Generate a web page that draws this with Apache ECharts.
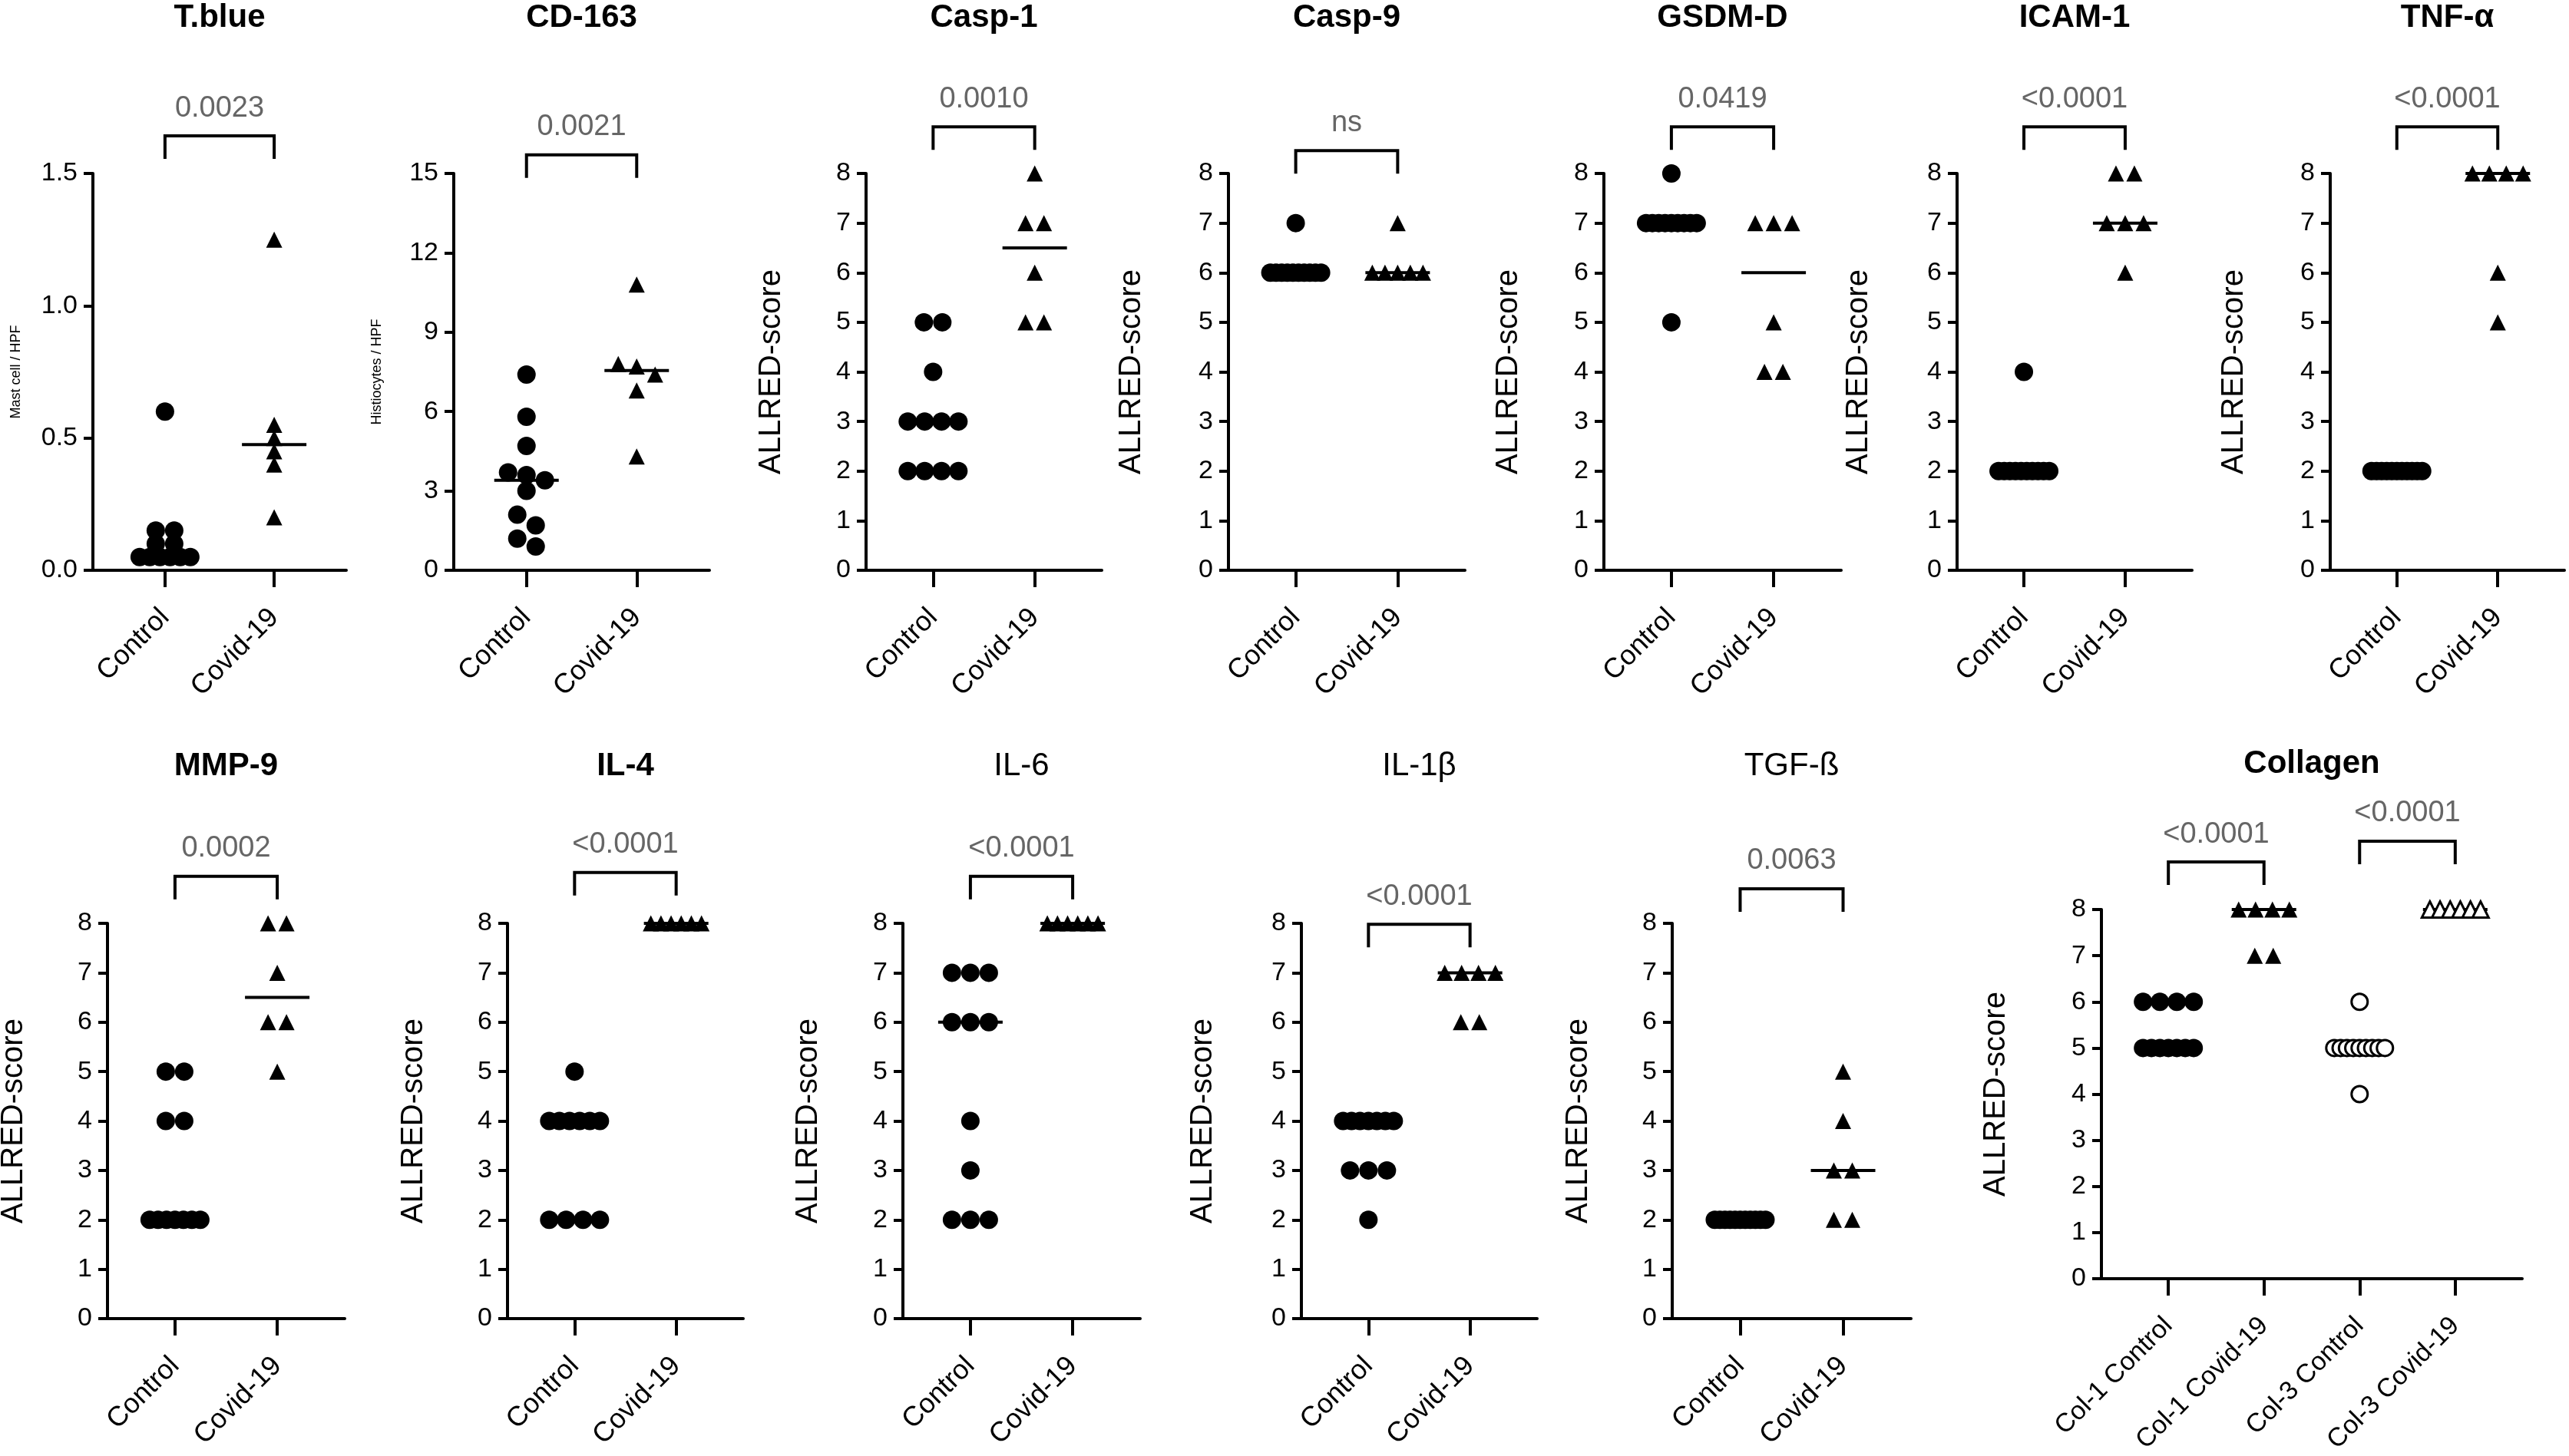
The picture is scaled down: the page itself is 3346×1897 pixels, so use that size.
<!DOCTYPE html>
<html>
<head>
<meta charset="utf-8">
<title>ALLRED panels</title>
<script src="https://cdn.jsdelivr.net/npm/echarts@6.0.0/dist/echarts.min.js"></script>
<style>
  html, body { margin: 0; padding: 0; background: #fff; }
  #chart { width: 3346px; height: 1897px; }
</style>
</head>
<body>
<div id="chart"></div>
<script>
const FONT = "'Liberation Sans', Arial, Helvetica, sans-serif";

// categories
const groups = ["Control", "Covid-19"];
const collagenGroups = ["Col-1 Control", "Col-1 Covid-19", "Col-3 Control", "Col-3 Covid-19"];

// p values printed above the brackets
const pValues = ["0.0023", "0.0021", "0.0010", "ns", "0.0419", "<0.0001", "<0.0001",
  "0.0002", "<0.0001", "<0.0001", "<0.0001", "0.0063", "<0.0001", "<0.0001"];

// values
const tblueControl = [0.6, 0.15, 0.15, 0.1, 0.1, 0.05, 0.05, 0.05, 0.05, 0.05, 0.05];
const tblueCovid = [1.25, 0.55, 0.5, 0.45, 0.4, 0.2];
const cd163Control = [7.4, 5.8, 4.7, 3.7, 3.6, 3.4, 3.0, 2.1, 1.7, 1.2, 0.9];
const cd163Covid = [10.8, 7.8, 7.7, 7.4, 6.8, 4.3];
const casp1Control = [5, 5, 4, 3, 3, 3, 3, 2, 2, 2, 2];
const casp1Covid = [8, 7, 7, 6, 5, 5];
const casp9Control = [7, 6, 6, 6, 6, 6, 6, 6, 6, 6, 6];
const casp9Covid = [7, 6, 6, 6, 6, 6];
const gsdmdControl = [8, 7, 7, 7, 7, 7, 7, 7, 7, 7, 5];
const gsdmdCovid = [7, 7, 7, 5, 4, 4];
const icam1Control = [4, 2, 2, 2, 2, 2, 2, 2, 2, 2, 2];
const icam1Covid = [8, 8, 7, 7, 7, 6];
const tnfControl = [2, 2, 2, 2, 2, 2, 2, 2, 2, 2, 2];
const tnfCovid = [8, 8, 8, 8, 6, 5];
const mmp9Control = [5, 5, 4, 4, 2, 2, 2, 2, 2, 2, 2];
const mmp9Covid = [8, 8, 7, 6, 6, 5];
const il4Control = [5, 4, 4, 4, 4, 4, 4, 2, 2, 2, 2];
const il4Covid = [8, 8, 8, 8, 8, 8];
const il6Control = [7, 7, 7, 6, 6, 6, 4, 3, 2, 2, 2];
const il6Covid = [8, 8, 8, 8, 8, 8];
const il1bControl = [4, 4, 4, 4, 4, 4, 4, 3, 3, 3, 2];
const il1bCovid = [7, 7, 7, 7, 6, 6];
const tgfbControl = [2, 2, 2, 2, 2, 2, 2, 2, 2, 2, 2];
const tgfbCovid = [5, 4, 3, 3, 2, 2];
const col1Control = [6, 6, 6, 6, 5, 5, 5, 5, 5, 5, 5];
const col1Covid = [8, 8, 8, 8, 7, 7];
const col3Control = [6, 5, 5, 5, 5, 5, 5, 5, 5, 5, 4];
const col3Covid = [8, 8, 8, 8, 8, 8];

// mark looks
const dot = { symbol: "circle", size: 24, fill: "#000" };
const tri = { symbol: "triangle", size: 21, fill: "#000" };
const ring = { symbol: "circle", size: 21, fill: "#fff" };
const triOpen = { symbol: "triangle", size: 21, fill: "#fff" };

const rowA = [226, 743];
const rowB = [1203, 1718];
const ALLRED = "ALLRED-score";

// panel layout: box = [left, top, right, bottom]
const panels = [
  { title: "T.blue", cats: groups, values: [tblueControl, tblueCovid], marks: [dot, tri], yMax: 1.5, yStep: 0.5, yName: "Mast cell / HPF", nameSize: 18, nameDist: 100, box: [121, rowA[0], 451, rowA[1]], titleY: 23, bold: true, brackets: [[0, 1, 1.642, pValues[0]]] },
  { title: "CD-163", cats: groups, values: [cd163Control, cd163Covid], marks: [dot, tri], yMax: 15, yStep: 3, yName: "Histiocytes / HPF", nameSize: 18, nameDist: 100, box: [591, rowA[0], 924, rowA[1]], titleY: 23, bold: true, brackets: [[0, 1, 15.7, pValues[1]]] },
  { title: "Casp-1", cats: groups, values: [casp1Control, casp1Covid], marks: [dot, tri], yMax: 8, yStep: 1, yName: ALLRED, nameSize: 40, nameDist: 123, box: [1128, rowA[0], 1435, rowA[1]], titleY: 23, bold: true, brackets: [[0, 1, 8.94, pValues[2]]] },
  { title: "Casp-9", cats: groups, values: [casp9Control, casp9Covid], marks: [dot, tri], yMax: 8, yStep: 1, yName: ALLRED, nameSize: 40, nameDist: 126, box: [1600, rowA[0], 1908, rowA[1]], titleY: 23, bold: true, brackets: [[0, 1, 8.46, pValues[3]]] },
  { title: "GSDM-D", cats: groups, values: [gsdmdControl, gsdmdCovid], marks: [dot, tri], yMax: 8, yStep: 1, yName: ALLRED, nameSize: 40, nameDist: 124, box: [2089, rowA[0], 2398, rowA[1]], titleY: 23, bold: true, brackets: [[0, 1, 8.94, pValues[4]]] },
  { title: "ICAM-1", cats: groups, values: [icam1Control, icam1Covid], marks: [dot, tri], yMax: 8, yStep: 1, yName: ALLRED, nameSize: 40, nameDist: 128, box: [2549, rowA[0], 2855, rowA[1]], titleY: 23, bold: true, brackets: [[0, 1, 8.94, pValues[5]]] },
  { title: "TNF-α", cats: groups, values: [tnfControl, tnfCovid], marks: [dot, tri], yMax: 8, yStep: 1, yName: ALLRED, nameSize: 40, nameDist: 125, box: [3035, rowA[0], 3340, rowA[1]], titleY: 23, bold: true, pad: 0.66, brackets: [[0, 1, 8.94, pValues[6]]] },
  { title: "MMP-9", cats: groups, values: [mmp9Control, mmp9Covid], marks: [dot, tri], yMax: 8, yStep: 1, yName: ALLRED, nameSize: 40, nameDist: 122, box: [140, rowB[0], 449, rowB[1]], titleY: 998, bold: true, brackets: [[0, 1, 8.95, pValues[7]]] },
  { title: "IL-4", cats: groups, values: [il4Control, il4Covid], marks: [dot, tri], yMax: 8, yStep: 1, yName: ALLRED, nameSize: 40, nameDist: 122, box: [661, rowB[0], 968, rowB[1]], titleY: 998, bold: true, brackets: [[0, 1, 9.03, pValues[8]]] },
  { title: "IL-6", cats: groups, values: [il6Control, il6Covid], marks: [dot, tri], yMax: 8, yStep: 1, yName: ALLRED, nameSize: 40, nameDist: 123, box: [1176, rowB[0], 1485, rowB[1]], titleY: 998, bold: false, brackets: [[0, 1, 8.95, pValues[9]]] },
  { title: "IL-1β", cats: groups, values: [il1bControl, il1bCovid], marks: [dot, tri], yMax: 8, yStep: 1, yName: ALLRED, nameSize: 40, nameDist: 128, box: [1695, rowB[0], 2002, rowB[1]], titleY: 998, bold: false, brackets: [[0, 1, 7.98, pValues[10]]] },
  { title: "TGF-ß", cats: groups, values: [tgfbControl, tgfbCovid], marks: [dot, tri], yMax: 8, yStep: 1, yName: ALLRED, nameSize: 40, nameDist: 122, box: [2178, rowB[0], 2489, rowB[1]], titleY: 998, bold: false, brackets: [[0, 1, 8.7, pValues[11]]] },
  { title: "Collagen", cats: collagenGroups, values: [col1Control, col1Covid, col3Control, col3Covid], marks: [dot, tri, ring, triOpen], yMax: 8, yStep: 1, yName: ALLRED, nameSize: 40, nameDist: 137, box: [2737, 1185, 3285, 1666], titleY: 995, bold: true, pad: 0.7, brackets: [[0, 1, 9.03, pValues[12]], [2, 3, 9.48, pValues[13]]] }
];

function median(arr) {
  const s = [...arr].sort((a, b) => a - b);
  const m = s.length >> 1;
  return s.length % 2 ? s[m] : (s[m - 1] + s[m]) / 2;
}

// spread points that sit (nearly) on the same level side by side, like a dot plot
function spreadOffsets(values, unitPx) {
  const tol = 14 / unitPx;
  const order = values.map((v, k) => k).sort((a, b) => values[b] - values[a]);
  const bins = [];
  let cur = [];
  order.forEach(k => {
    if (cur.length && values[cur[0]] - values[k] > tol) { bins.push(cur); cur = []; }
    cur.push(k);
  });
  if (cur.length) bins.push(cur);
  const off = new Array(values.length).fill(0);
  bins.forEach(b => {
    const n = b.length;
    const step = n > 1 ? Math.min(24, 66 / (n - 1)) : 0;
    b.forEach((k, j) => { off[k] = (j - (n - 1) / 2) * step; });
  });
  return off;
}

const grid = [], xAxis = [], yAxis = [], series = [], graphic = [];

panels.forEach((p, i) => {
  const [L, T, R, B] = p.box;
  const pad = p.pad || 0.66;
  const ticks = p.cats.map((c, j) => j);
  grid.push({ left: L, top: T, width: R - L, height: B - T, containLabel: false, outerBoundsMode: "none" });

  xAxis.push({
    gridIndex: i, type: "value", min: -pad, max: p.cats.length - 1 + pad,
    axisLine: { show: true, onZero: false, lineStyle: { color: "#000", width: 4 } },
    axisTick: { show: true, customValues: ticks, length: 22, lineStyle: { color: "#000", width: 4 } },
    axisLabel: { customValues: ticks, formatter: v => p.cats[Math.round(v)] || "", rotate: 45, margin: 56,
      fontSize: p.cats.length > 2 ? 34 : 36, color: "#000", fontFamily: FONT },
    splitLine: { show: false }
  });

  yAxis.push({
    gridIndex: i, type: "value", min: 0, max: p.yMax, interval: p.yStep,
    axisLine: { show: true, onZero: false, lineStyle: { color: "#000", width: 4 } },
    axisTick: { show: true, length: 12, lineStyle: { color: "#000", width: 4 } },
    axisLabel: { fontSize: 34, color: "#000", fontFamily: FONT, margin: 20,
      formatter: v => (p.yStep < 1 ? v.toFixed(1) : String(v)) },
    splitLine: { show: false },
    name: p.yName, nameLocation: "middle", nameGap: p.nameDist - p.nameSize / 2,
    nameTextStyle: { fontSize: p.nameSize, color: "#000", fontFamily: FONT }
  });

  const unitPx = (B - T) / p.yMax;

  // median lines
  series.push({
    type: "custom", xAxisIndex: i, yAxisIndex: i, z: 2, silent: true,
    data: p.values.map((vals, j) => [j, median(vals)]),
    renderItem: (params, api) => {
      const c = api.coord([api.value(0), api.value(1)]);
      return { type: "line", shape: { x1: c[0] - 42, y1: c[1], x2: c[0] + 42, y2: c[1] },
        style: { stroke: "#000", lineWidth: 4 } };
    }
  });

  // points
  p.values.forEach((vals, j) => {
    const m = p.marks[j];
    const off = spreadOffsets(vals, unitPx);
    series.push({
      type: "scatter", xAxisIndex: i, yAxisIndex: i, z: 3, silent: true,
      symbol: m.symbol, symbolSize: m.size,
      itemStyle: { color: m.fill, borderColor: "#000", borderWidth: m.fill === "#fff" ? 3 : 0, opacity: 1 },
      data: vals.map((v, k) => ({ value: [j, v], symbolOffset: [off[k], 0] }))
    });
  });

  // significance brackets
  p.brackets.forEach(br => {
    series.push({
      type: "custom", xAxisIndex: i, yAxisIndex: i, z: 4, clip: false, silent: true,
      data: [[br[0], br[1], br[2]]],
      renderItem: (params, api) => {
        const a = api.coord([api.value(0), api.value(2)]);
        const b = api.coord([api.value(1), api.value(2)]);
        return {
          type: "group",
          children: [
            { type: "polyline", shape: { points: [[a[0], a[1] + 30], [a[0], a[1]], [b[0], b[1]], [b[0], b[1] + 30]] },
              style: { stroke: "#000", lineWidth: 4, fill: null } },
            { type: "text", style: { text: br[3], x: (a[0] + b[0]) / 2, y: a[1] - 36, align: "center", verticalAlign: "middle",
              fill: "#666", fontSize: 38, fontFamily: FONT } }
          ]
        };
      }
    });
  });

  graphic.push({
    type: "text", x: (L + R) / 2, y: p.titleY, silent: true,
    style: { text: p.title, align: "center", verticalAlign: "middle", fill: "#000",
      fontSize: 42, fontWeight: p.bold ? "bold" : "normal", fontFamily: FONT }
  });
});

const chart = echarts.init(document.getElementById("chart"), null, { renderer: "canvas" });
chart.setOption({
  backgroundColor: "#fff",
  animation: false,
  grid, xAxis, yAxis, series, graphic
});
</script>
</body>
</html>
